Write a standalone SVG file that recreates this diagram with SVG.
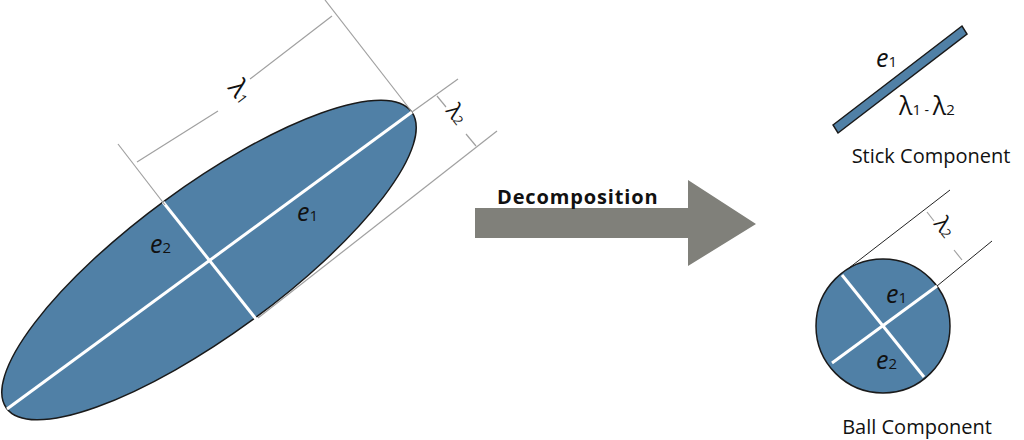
<svg xmlns="http://www.w3.org/2000/svg" width="1024" height="440" viewBox="0 0 1024 440">
<style>
.fill{fill:#5080a6;stroke:#1a1a1a;stroke-width:1.5}
.ax{stroke:#fff;stroke-width:3}
.dim{stroke:#a0a0a0;stroke-width:1.2;fill:none}
.ext{stroke:#222;stroke-width:1;fill:none}
.t{font-family:"Open Sans","DejaVu Sans",sans-serif;fill:#111}
.i{font-style:italic;font-size:25px}
</style>
<rect width="1024" height="440" fill="#fff"/>
<g id="ellipse">
<ellipse class="fill" cx="209" cy="260" rx="251" ry="74" transform="rotate(-36.2 209 260)"/>
<line class="ax" x1="7" y1="409" x2="412" y2="112"/>
<line class="ax" x1="163" y1="202" x2="256" y2="319"/>
<text class="t i" x="150" y="253">e<tspan font-size="15" font-style="normal">2</tspan></text>
<text class="t i" x="297" y="221">e<tspan font-size="15" font-style="normal">1</tspan></text>
</g>
<g id="dimensions">
<line class="dim" x1="412" y1="112" x2="325" y2="0"/>
<line class="dim" x1="165" y1="205" x2="118" y2="144"/>
<line class="dim" x1="137" y1="162" x2="218" y2="111"/>
<line class="dim" x1="250" y1="79" x2="332" y2="16"/>
<text class="t" font-size="26" transform="translate(227 88) rotate(52)">λ<tspan font-size="14">1</tspan></text>
<line class="dim" x1="412" y1="112" x2="458" y2="79"/>
<line class="dim" x1="258" y1="318" x2="497" y2="131"/>
<line class="dim" x1="437" y1="96" x2="446" y2="107"/>
<line class="dim" x1="466" y1="134" x2="476" y2="146"/>
<text class="t" font-size="22" transform="translate(445 111) rotate(52)">λ<tspan font-size="13">2</tspan></text>
</g>
<g id="arrow">
<polygon fill="#80807a" points="475,208 688,208 688,180 756,224 688,266 688,238 475,238"/>
<text class="t" x="497" y="204" font-size="20" font-weight="bold" letter-spacing="-0.6" textLength="160">Decomposition</text>
</g>
<g id="stick">
<polygon class="fill" points="833,125 962,26 967,34 838,133"/>
<text class="t i" x="876" y="67">e<tspan font-size="15" font-style="normal">1</tspan></text>
<text class="t" x="899" y="115" font-size="25">λ<tspan font-size="15">1</tspan><tspan font-size="14"> - </tspan>λ<tspan font-size="15">2</tspan></text>
<text class="t" x="931" y="163" font-size="20" text-anchor="middle">Stick Component</text>
</g>
<g id="ball">
<line class="ext" x1="849" y1="268" x2="950" y2="190"/>
<line class="ext" x1="937" y1="286" x2="992" y2="241"/>
<circle class="fill" cx="883" cy="326" r="67"/>
<line class="ax" x1="842" y1="275" x2="924" y2="377"/>
<line class="ax" x1="832" y1="363" x2="937" y2="286"/>
<line class="dim" x1="927" y1="212" x2="934" y2="221"/>
<line class="dim" x1="954" y1="250" x2="962" y2="260"/>
<text class="t" font-size="22" transform="translate(933 224) rotate(52)">λ<tspan font-size="13">2</tspan></text>
<text class="t i" x="886" y="303">e<tspan font-size="15" font-style="normal">1</tspan></text>
<text class="t i" x="876" y="369">e<tspan font-size="15" font-style="normal">2</tspan></text>
<text class="t" x="917" y="434" font-size="20" text-anchor="middle">Ball Component</text>
</g>
</svg>
